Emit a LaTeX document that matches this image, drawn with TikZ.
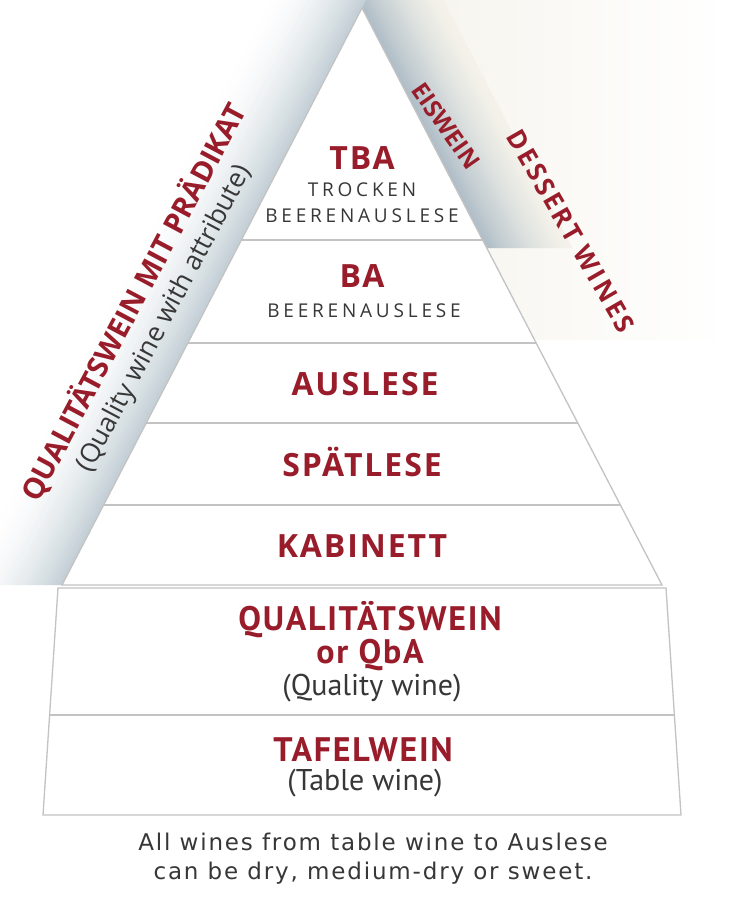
\documentclass[tikz,border=0pt]{standalone}
\usepackage{fontspec}
\setmainfont{Open Sans}
\newfontfamily\capfont{DejaVu Sans}[LetterSpace=8]
\newfontfamily\lowfont{PT Sans}[LetterSpace=5]
\newfontfamily\lowsubfont{PT Sans}
\newfontfamily\subfont{Open Sans}[LetterSpace=20]
\newfontfamily\tierfont{Open Sans}[LetterSpace=6]
\newfontfamily\dessfont{Open Sans}[LetterSpace=10]
\usetikzlibrary{calc}
\definecolor{wred}{RGB}{152,28,42}
\definecolor{wgray}{RGB}{55,55,55}
\definecolor{edgegray}{RGB}{195,195,195}
\definecolor{bandL}{RGB}{196,208,214}
\definecolor{bandR}{RGB}{176,190,200}
\definecolor{cream}{RGB}{244,242,234}
\begin{document}
\begin{tikzpicture}[x=1pt,y=-1pt,
  tier/.style={font=\tierfont\bfseries\fontsize{32}{34}\selectfont, text=wred, inner sep=0pt},
  sub/.style={font=\subfont\fontsize{19}{22}\selectfont, text=wgray, inner sep=0pt},
  lowtier/.style={font=\lowfont\bfseries\fontsize{34}{36}\selectfont, text=wred, inner sep=0pt},
  lowsub/.style={font=\lowsubfont\fontsize{30}{34}\selectfont, text=wgray, inner sep=0pt},
  side/.style={font=\bfseries\fontsize{24}{26}\selectfont, text=wred, inner sep=0pt},
  edgeline/.style={draw=edgegray, line width=1.3pt}]
\useasboundingbox (0,0) rectangle (730,904);
\fill[white] (0,0) rectangle (730,904);
% right cream region
\shade[left color=cream, right color=white] (357.8,0) -- (730,0) -- (730,340) -- (535,340) -- cycle;
% right blue band
\begin{scope}
\clip (300,0) rectangle (730,248);
\foreach \i in {0,...,24}{
  \pgfmathsetmacro\p{100*(1-\i/25)^1.5}
  \pgfmathsetmacro\da{\i*3.4}
  \pgfmathsetmacro\db{(\i+1)*3.4+0.6}
  \fill[bandR!\p!cream] (357.8+\da,0) -- (357.8+\db,0) -- (486.8+\db,248) -- (486.8+\da,248) -- cycle;
}
\end{scope}
% left band
\begin{scope}
\clip (0,0) rectangle (400,585);
\foreach \i in {0,...,24}{
  \pgfmathsetmacro\p{100*(1-\i/25)^1.8}
  \pgfmathsetmacro\da{\i*4}
  \pgfmathsetmacro\db{(\i+1)*4+0.6}
  \fill[bandL!\p!white] (366.2-\da,0) -- (366.2-\db,0) -- (62-\db,585) -- (62-\da,585) -- cycle;
}
\end{scope}
% pyramid
\coordinate (A) at (362,8);
\coordinate (L) at (62,585);
\coordinate (R) at (662,585);
\filldraw[fill=white, edgeline, line join=miter] (A) -- (L) -- (R) -- cycle;
\foreach \y/\nm in {240/a, 343/b, 423/c, 505/d}{
  \pgfmathsetmacro\t{(\y-8)/577}
  \coordinate (l\nm) at ($(A)!\t!(L)$);
  \coordinate (r\nm) at ($(A)!\t!(R)$);
  \draw[edgeline] (l\nm) -- (r\nm);
}
% lower box
\coordinate (BL1) at (58,588);
\coordinate (BR1) at (666,588);
\coordinate (BL2) at (43,815);
\coordinate (BR2) at (681,815);
\coordinate (ML) at ($(BL1)!0.5595!(BL2)$);
\coordinate (MR) at ($(BR1)!0.5595!(BR2)$);
\filldraw[fill=white, edgeline] (BL1) -- (BR1) -- (BR2) -- (BL2) -- cycle;
\draw[edgeline] (ML) -- (MR);
% tier labels
\node[tier] (tba) at (362,158) {TBA};
\node[sub] (trocken) at (362,190) {TROCKEN};
\node[sub] (beeren1) at (362,216) {BEERENAUSLESE};
\node[tier] (ba) at (362,276) {BA};
\node[sub] (beeren2) at (364,311) {BEERENAUSLESE};
\node[tier] (auslese) at (365,384) {AUSLESE};
\node[tier] (spaet) at (362,462) {SPÄTLESE};
\node[tier] (kab) at (362,546) {KABINETT};
\node[lowtier] (qw) at (370,620) {QUALITÄTSWEIN};
\node[lowtier] (qba) at (370,655) {or QbA};
\node[lowsub] (qwe) at (372,688) {(Quality wine)};
\node[lowtier] (tafel) at (363,750) {TAFELWEIN};
\node[lowsub] (table) at (365,783) {(Table wine)};
% side labels
\node[rotate=62, inner sep=0pt, text=wred, font=\bfseries\fontsize{29}{32}\selectfont] (qmp) at (133,302) {QUALITÄTSWEIN MIT PRÄDIKAT};
\node[rotate=62, inner sep=0pt, text=wgray, font=\fontsize{26.5}{30}\selectfont] (qwa) at (165,319) {(Quality wine with attribute)};
\node[side, rotate=-55] (eis) at (446,126) {EISWEIN};
\node[side, font=\dessfont\bfseries\fontsize{26}{28}\selectfont, rotate=-60] (dess) at (571,231) {DESSERT WINES};
% caption
\node[font=\capfont\fontsize{23}{29}\selectfont, text=wgray, align=center, inner sep=0pt] (cap) at (373,859)
  {All wines from table wine to Auslese\\can be dry, medium-dry or sweet.};
\end{tikzpicture}
\end{document}
